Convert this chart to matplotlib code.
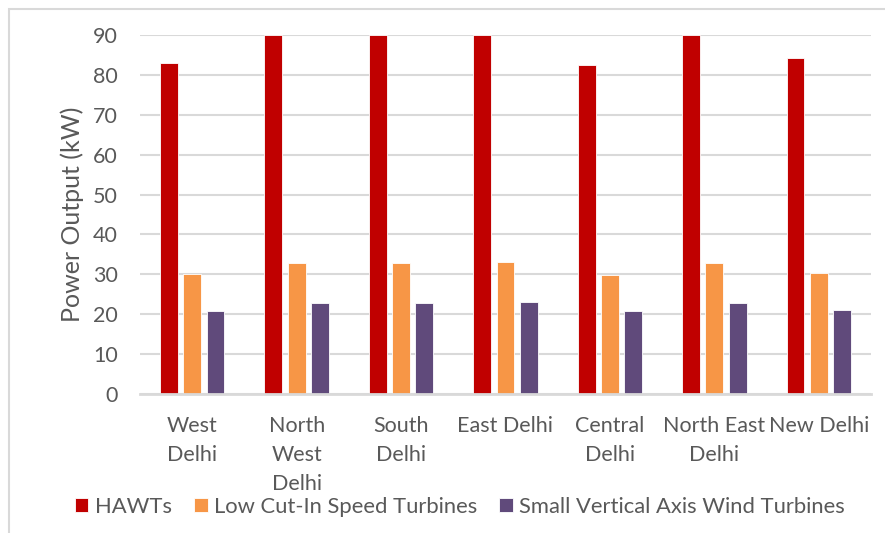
import matplotlib
matplotlib.use("Agg")
import matplotlib.pyplot as plt
import numpy as np
from matplotlib.patches import Rectangle

# District names (wrapped as shown on the axis)
districts = ["West\nDelhi", "North\nWest\nDelhi", "South\nDelhi", "East Delhi",
             "Central\nDelhi", "North East\nDelhi", "New Delhi"]

series_names = ["HAWTs", "Low Cut-In Speed Turbines",
                "Small Vertical Axis Wind Turbines"]

hawt = [83.1, 90.0, 90.0, 90.0, 82.5, 90.0, 84.3]
low_cut_in = [30.0, 32.8, 32.8, 33.0, 29.8, 32.8, 30.4]
small_vawt = [20.8, 22.8, 22.8, 23.0, 20.8, 22.8, 21.1]

colors = ["#C00000", "#F79646", "#604A7B"]
text_color = "#595959"
grid_color = "#D9D9D9"

plt.rcParams["font.family"] = ["Lato", "DejaVu Sans"]

fig = plt.figure(figsize=(8.85, 5.33), dpi=100)
W, H = 885, 533
ax = fig.add_axes([140 / W, 1 - 394 / H, (871 - 140) / W, (394 - 35) / H])

# Outer chart frame
fig.patches.append(Rectangle((9 / W, -0.05), 1.1, 1 - 9 / H + 0.05,
                             transform=fig.transFigure, fill=False,
                             edgecolor=grid_color, linewidth=1.5))

x = np.arange(len(districts))
width = 0.172
step = 0.223
for i, (vals, name) in enumerate(zip([hawt, low_cut_in, small_vawt], series_names)):
    ax.bar(x + (i - 1) * step, vals, width, color=colors[i], label=name,
           edgecolor="white", linewidth=0.6, zorder=3)

ax.set_xlim(-0.5, len(districts) - 0.5)
ax.set_ylim(0, 90)
ax.set_yticks(np.arange(0, 91, 10))
ax.yaxis.grid(True, color=grid_color, linewidth=1.5, zorder=0)
ax.set_axisbelow(True)
for side in ["top", "right", "left"]:
    ax.spines[side].set_visible(False)
ax.spines["bottom"].set_color(grid_color)
ax.spines["bottom"].set_linewidth(2)
ax.spines["bottom"].set_zorder(4)

ax.set_xticks(x)
ax.set_xticklabels(districts, fontsize=15.5, color=text_color, linespacing=1.55,
                   va="top")
ax.tick_params(axis="x", length=0, pad=16)
ax.tick_params(axis="y", length=0, labelsize=15.5, labelcolor=text_color, pad=16)

ax.set_ylabel("Power Output (kW)", fontsize=18, color=text_color)
ax.yaxis.set_label_coords((84 - 140) / (871 - 140), 0.5)

leg = fig.legend(loc="center", bbox_to_anchor=(460 / W, 1 - 507 / H), ncol=3,
                 frameon=False, fontsize=15.8, handlelength=0.62, handleheight=0.62,
                 handletextpad=0.3, columnspacing=1.0)
for t in leg.get_texts():
    t.set_color(text_color)

fig.savefig("out.png", dpi=100)
